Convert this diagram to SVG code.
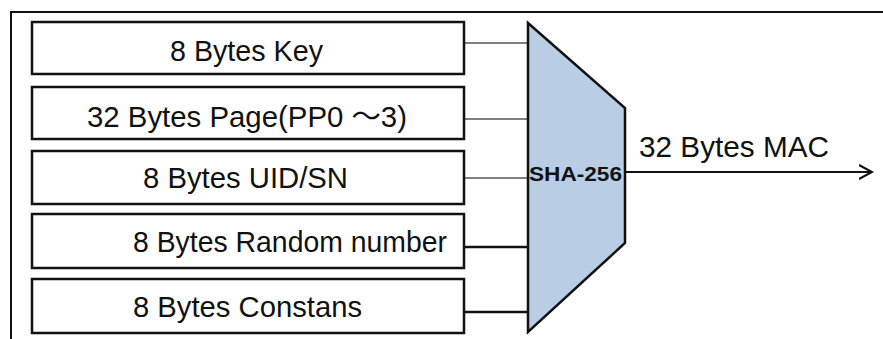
<svg xmlns="http://www.w3.org/2000/svg" width="883" height="339" viewBox="0 0 883 339">
<defs>
<style>
.box{fill:#fff;stroke:#111;stroke-width:2.5}
.t{font-family:"Liberation Sans","Noto Sans CJK SC",sans-serif;font-size:29px;fill:#111;text-anchor:start}
.thin{stroke:#555;stroke-width:1.5;fill:none}
.thick{stroke:#111;stroke-width:2.5;fill:none}
</style>
<marker id="arr" markerWidth="16" markerHeight="16" refX="13" refY="8" orient="auto" markerUnits="userSpaceOnUse">
<path d="M0,1 L13,8 L0,15" fill="none" stroke="#111" stroke-width="2"/>
</marker>
</defs>
<rect width="883" height="339" fill="#fff"/>
<g id="frame">
<path d="M883,12 L11,12 L11,339" fill="none" stroke="#111" stroke-width="2"/>
</g>
<g id="connectors">
<line class="thin" x1="464" y1="43" x2="528" y2="43"/>
<line class="thin" x1="464" y1="119" x2="528" y2="119"/>
<line class="thin" x1="464" y1="178" x2="528" y2="178"/>
<line class="thick" x1="464" y1="247" x2="528" y2="247"/>
<line class="thick" x1="464" y1="312" x2="528" y2="312"/>
<line x1="625" y1="172" x2="872" y2="172" stroke="#111" stroke-width="2.2" marker-end="url(#arr)"/>
<text class="t" x="639" y="157" textLength="190" lengthAdjust="spacingAndGlyphs">32 Bytes MAC</text>
</g>
<g id="key">
<rect class="box" x="32" y="22" width="432" height="52"/>
<text class="t" x="170" y="61" textLength="153" lengthAdjust="spacingAndGlyphs">8 Bytes Key</text>
</g>
<g id="page">
<rect class="box" x="32" y="87" width="432" height="52"/>
<text class="t" x="87" y="127" textLength="320" lengthAdjust="spacingAndGlyphs">32 Bytes Page(PP0 ～3)</text>
</g>
<g id="uid">
<rect class="box" x="32" y="151" width="432" height="53"/>
<text class="t" x="143" y="188" textLength="205" lengthAdjust="spacingAndGlyphs">8 Bytes UID/SN</text>
</g>
<g id="random">
<rect class="box" x="32" y="214" width="432" height="54"/>
<text class="t" x="133" y="252" textLength="314" lengthAdjust="spacingAndGlyphs">8 Bytes Random number</text>
</g>
<g id="constans">
<rect class="box" x="32" y="279" width="432" height="54"/>
<text class="t" x="133" y="317" textLength="229" lengthAdjust="spacingAndGlyphs">8 Bytes Constans</text>
</g>
<g id="sha">
<polygon points="528,23 625,108 625,243 528,332" fill="#b9cde5" stroke="#111" stroke-width="2.5"/>
<text x="529" y="181" font-family="Liberation Sans, sans-serif" font-weight="bold" font-size="20" fill="#111" textLength="93" lengthAdjust="spacingAndGlyphs">SHA-256</text>
</g>
</svg>
